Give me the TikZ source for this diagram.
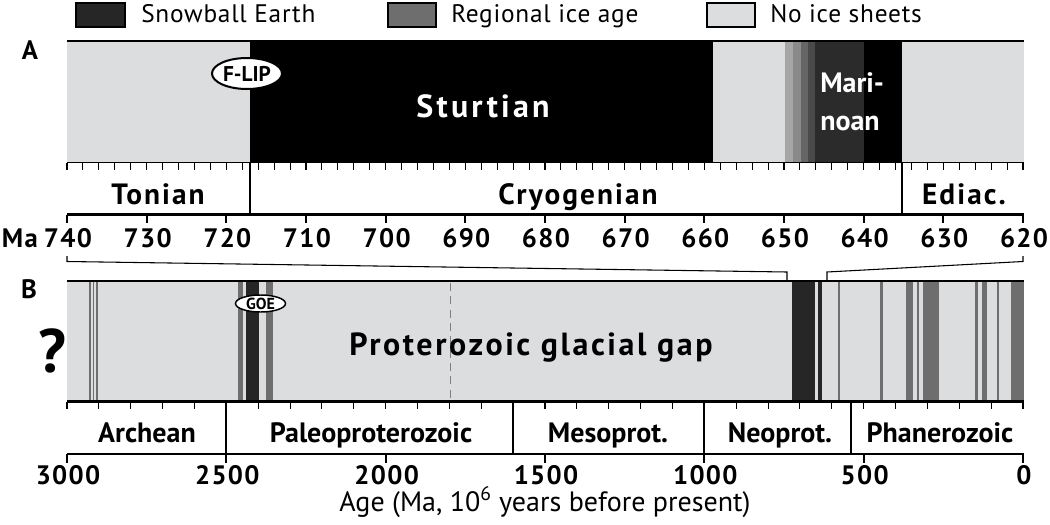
\documentclass[tikz,border=0pt]{standalone}
\usepackage{fontspec}
\usetikzlibrary{shapes.geometric}
\setmainfont{PT Sans}
\newfontfamily\lgfont[LetterSpace=3]{PT Sans}
\newfontfamily\perAfont[LetterSpace=7]{PT Sans}
\newfontfamily\perBfont{PT Sans}
\newfontfamily\numfont[LetterSpace=5]{PT Sans}
\newfontfamily\bigfont[LetterSpace=8]{PT Sans}
\newfontfamily\stfont[LetterSpace=10]{PT Sans}
\definecolor{snow}{HTML}{262626}
\definecolor{regional}{HTML}{6E6E6E}
\definecolor{noice}{HTML}{DCDDDF}
\definecolor{gA}{HTML}{A6A6A6}
\definecolor{gB}{HTML}{8A8A8A}
\definecolor{gC}{HTML}{666666}
\definecolor{gD}{HTML}{4A4A4A}
\definecolor{marin}{HTML}{2B2B2B}
\begin{document}
\begin{tikzpicture}[x=0.75pt,y=-0.75pt,
  lgtext/.style={font=\lgfont\fontsize{19}{22}\selectfont,inner sep=0pt,anchor=base west},
  lgbox/.style={draw=black,line width=0.8pt},
  panlab/.style={font=\bfseries\fontsize{20}{24}\selectfont,inner sep=0pt,anchor=base},
  perA/.style={font=\perAfont\bfseries\fontsize{22}{26}\selectfont,inner sep=0pt,anchor=base},
  perB/.style={font=\perBfont\bfseries\fontsize{21}{25}\selectfont,inner sep=0pt,anchor=base},
  numlab/.style={font=\numfont\bfseries\fontsize{20}{24}\selectfont,inner sep=0pt,anchor=base},
  tick/.style={line width=0.8pt},
  bound/.style={line width=1.5pt},
  topline/.style={line width=2.2pt},
  rowline/.style={line width=2.2pt},
  oval/.style={ellipse,draw=black,fill=white,inner sep=0pt},
  zoomline/.style={line width=0.8pt}
]
\useasboundingbox (0,0) rectangle (1050,525);
\fill[white] (0,0) rectangle (1050,525);

% ---------- legend ----------
\draw[lgbox,fill=snow] (76,3) rectangle (125,27);
\node[lgtext] (l1) at (141,22) {Snowball Earth};
\draw[lgbox,fill=regional] (388,3) rectangle (436,27);
\node[lgtext] (l2) at (451,22) {Regional ice age};
\draw[lgbox,fill=noice] (707,3) rectangle (755,27);
\node[lgtext] (l3) at (770,22) {No ice sheets};

% ---------- panel A ----------
\node[panlab] (labA) at (30,59) {A};
\fill[noice] (67,41) rectangle (250.3,162);
\fill[black] (250.3,41) rectangle (713.3,162);
\fill[noice] (713.3,41) rectangle (785,162);
\fill[gA] (785,41) rectangle (793.3,162);
\fill[gB] (793.3,41) rectangle (801,162);
\fill[gC] (801,41) rectangle (808.3,162);
\fill[gD] (808.3,41) rectangle (815,162);
\fill[marin] (815,41) rectangle (864.3,162);
\fill[black] (864.3,41) rectangle (901.7,162);
\fill[noice] (901.7,41) rectangle (1024,162);
\draw[topline] (67,41) -- (1024,41);
\draw[line width=1.4pt] (67,162.5) -- (1024,162.5);
\foreach \i in {0,...,60} \draw[tick] (67+\i*15.933,162.5) -- ++(0,7.5);
\draw[bound] (250.3,162.5) -- (250.3,214);
\draw[bound] (901.7,162.5) -- (901.7,214);
\draw[rowline] (67,214.5) -- (1024,214.5);
\foreach \i in {0,...,12} \draw[line width=1.4pt] (67+\i*79.667,214.5) -- ++(0,8.5);
\foreach \i [evaluate=\i as \v using int(740-10*\i)] in {0,...,12}
  \node[numlab] (na\i) at (67+\i*79.667+1,247) {\v};
\node[font=\numfont\bfseries\fontsize{20}{24}\selectfont,inner sep=0pt,anchor=base east] (ma) at (38,247) {Ma};

\node[oval,minimum width=70*0.75pt,minimum height=31*0.75pt,line width=1.5pt,font=\bfseries\fontsize{16}{19}\selectfont] (flip) at (247,73.5) {F-LIP};
\node[font=\stfont\bfseries\fontsize{24}{28}\selectfont,text=white,inner sep=0pt,anchor=base] (sturt) at (483,117) {Sturtian};
\node[font=\bfseries\fontsize{21}{25}\selectfont,text=white,inner sep=0pt,anchor=base west] (mari1) at (820,92) {Mari-};
\node[font=\bfseries\fontsize{21}{25}\selectfont,text=white,inner sep=0pt,anchor=base west] (mari2) at (820,130) {noan};

\node[perA] (ton) at (158,204) {Tonian};
\node[perA] (cryo) at (578,204) {Cryogenian};
\node[perA] (edi) at (964,204) {Ediac.};

% ---------- zoom connectors ----------
\coordinate (bl1) at (67,256);
\coordinate (bl2) at (67,261.5);
\coordinate (bl3) at (787,272);
\coordinate (bl4) at (787,280);
\coordinate (br1) at (1023,256);
\coordinate (br2) at (1023,261.5);
\coordinate (br3) at (827,272);
\coordinate (br4) at (827,280);
\draw[zoomline] (bl1) -- (bl2) -- (bl3) -- (bl4);
\draw[zoomline] (br1) -- (br2) -- (br3) -- (br4);

% ---------- panel B ----------
\node[panlab] (labB) at (29,298) {B};
\node[font=\bfseries\fontsize{46}{50}\selectfont,inner sep=0pt,anchor=base] (qm) at (52,372) {?};
\fill[noice] (67,281) rectangle (1024,401);
\foreach \a/\b/\c in {88.5/90.5/regional,92.5/94/regional,96/98/regional,
  238.3/243.3/regional,245.7/259.2/snow,266/273.3/regional,
  791.7/814.5/snow,817.7/821.7/snow,
  838/840/regional,880.3/883/regional,906/912.7/regional,916.7/918.7/regional,
  922.5/939.3/regional,975/978.3/regional,981.5/986.7/regional,996.8/998.8/regional,
  1010.7/1024/regional}
  \fill[\c] (\a,281) rectangle (\b,401);
\draw[gray,line width=0.75pt,dash pattern=on 6pt off 4pt] (450.7,283) -- (450.7,399);
\draw[topline] (67,281) -- (1024,281);
\draw[line width=2pt] (67,401.5) -- (1024,401.5);
\foreach \i in {0,...,30} \draw[tick] (67+\i*31.867,401.5) -- ++(0,7.5);
\foreach \x in {226.3,513.1,704.3,850.6} \draw[bound] (\x,401.5) -- (\x,454);
\draw[rowline] (67,454) -- (1024,454);
\foreach \i in {0,...,6} \draw[line width=1.4pt] (67+\i*159.33,454) -- ++(0,8.5);
\foreach \i [evaluate=\i as \v using int(3000-500*\i)] in {0,...,6}
  \node[numlab] (nb\i) at (67+\i*159.33+1,484) {\v};

\node[oval,minimum width=50*0.75pt,minimum height=17*0.75pt,line width=1.1pt,font=\bfseries\fontsize{12}{14}\selectfont] (goe) at (260.5,303.5) {GOE};
\node[font=\bigfont\bfseries\fontsize{24}{28}\selectfont,inner sep=0pt,anchor=base] (gap) at (531,355) {Proterozoic glacial gap};

\node[perB] (arch) at (147,442) {Archean};
\node[perB] (paleo) at (371,442) {Paleoproterozoic};
\node[perB] (meso) at (608,442) {Mesoprot.};
\node[perB] (neo) at (780,442) {Neoprot.};
\node[perB] (phan) at (940,442) {Phanerozoic};

\node[font=\fontsize{21}{25}\selectfont,inner sep=0pt,anchor=base] (age) at (545,511) {Age (Ma, 10\textsuperscript{6} years before present)};
\end{tikzpicture}
\end{document}
